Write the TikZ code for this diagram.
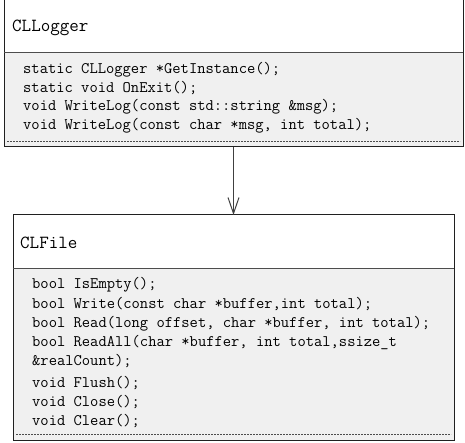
\documentclass[tikz,border=0pt]{standalone}
\usepackage{fontspec}
\usetikzlibrary{arrows.meta}
\definecolor{bodygray}{HTML}{F0F0F0}
\definecolor{edge}{HTML}{202020}
\tikzset{
  box/.style={draw=edge, line width=1pt, anchor=north west, inner sep=0pt, outer sep=0pt},
  sep/.style={draw=edge!80, line width=1pt},
  dots/.style={draw=black!70, line width=0.8pt, dash pattern=on 2pt off 1pt},
  ttl/.style={anchor=base west, inner sep=0pt, font=\ttfamily\fontsize{18.5}{19}\selectfont},
  mem/.style={anchor=base west, inner sep=0pt, font=\ttfamily\fontsize{16.1}{16}\selectfont},
  assoc/.style={draw=black!75, line width=1pt, -{Straight Barb[length=16pt,width=11pt,line width=1pt]}}
}
\begin{document}
\begin{tikzpicture}[x=1pt,y=-1pt]
\useasboundingbox (0,0) rectangle (465,443);
% CLLogger box
\fill[bodygray] (4,52.5) rectangle (463,147);
\node[box, minimum width=459pt, minimum height=147pt] (logger) at (4,0) {};
\draw[sep] (4,52.5) -- (463,52.5);
\draw[dots] (7,141) -- (460,141);
\node[ttl] (loggertitle) at (12,32) {CLLogger};
\node[mem] (l1) at (23,74) {static CLLogger *GetInstance();};
\node[mem] (l2) at (23,92.5) {static void OnExit();};
\node[mem] (l3) at (23,111) {void WriteLog(const std::string \&msg);};
\node[mem] (l4) at (23,129.5) {void WriteLog(const char *msg, int total);};
% CLFile box
\fill[bodygray] (13,268.5) rectangle (454,440);
\node[box, minimum width=441pt, minimum height=225pt] (file) at (13,215) {};
\draw[sep] (13,268.5) -- (454,268.5);
\draw[dots] (16,434) -- (451,434);
\node[ttl] (filetitle) at (20,248) {CLFile};
\node[mem] (f1) at (32,288.5) {bool IsEmpty();};
\node[mem] (f2) at (32,308) {bool Write(const char *buffer,int total);};
\node[mem] (f3) at (32,327) {bool Read(long offset, char *buffer, int total);};
\node[mem] (f4) at (32,346) {bool ReadAll(char *buffer, int total,ssize\_t};
\node[mem] (f5) at (32,365.5) {\&realCount);};
\node[mem] (f6) at (32,387) {void Flush();};
\node[mem] (f7) at (32,406) {void Close();};
\node[mem] (f8) at (32,425) {void Clear();};
% association
\draw[assoc] (logger.south) -- (file.north);
\end{tikzpicture}
\end{document}
